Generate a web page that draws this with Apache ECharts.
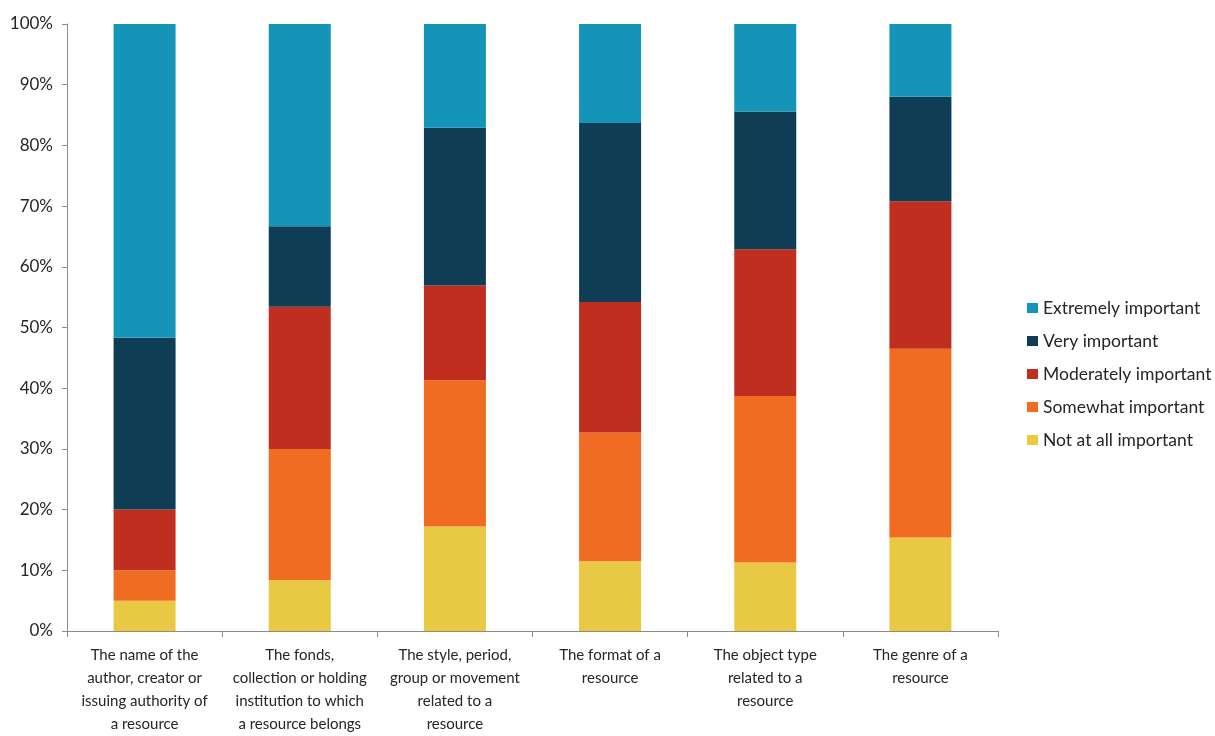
<!DOCTYPE html>
<html>
<head>
<meta charset="utf-8">
<script src="https://cdn.jsdelivr.net/npm/echarts@6/dist/echarts.min.js"></script>
<style>
  html, body { margin: 0; padding: 0; background: #fff; overflow: hidden; }
  #chart { width: 1215px; height: 736px; }
</style>
</head>
<body>
<div id="chart"></div>
<script>
// Categories (metadata facets) and share of answers per importance level, in %
const categories = [
  'The name of the\nauthor, creator or\nissuing authority of\na resource',
  'The fonds,\ncollection or holding\ninstitution to which\na resource belongs',
  'The style, period,\ngroup or movement\nrelated to a\nresource',
  'The format of a\nresource',
  'The object type\nrelated to a\nresource',
  'The genre of a\nresource'
];
const notAtAll    = [5.0, 8.4, 17.2, 11.5, 11.3, 15.4];
const somewhat    = [5.0, 21.6, 24.1, 21.2, 27.4, 31.1];
const moderately  = [10.0, 23.4, 15.6, 21.5, 24.2, 24.3];
const very        = [28.3, 13.3, 26.0, 29.5, 22.7, 17.2];
const extremely   = [51.7, 33.3, 17.1, 16.3, 14.4, 12.0];
const yTicks = [0, 10, 20, 30, 40, 50, 60, 70, 80, 90, 100];

const font = 'Lato, "Open Sans", sans-serif';
const textColor = '#262626';
const axisGray = '#8c8c8c';

const seriesDefs = [
  { name: 'Not at all important', data: notAtAll,   color: '#E9C844' },
  { name: 'Somewhat important',   data: somewhat,   color: '#F06C22' },
  { name: 'Moderately important', data: moderately, color: '#C02E1F' },
  { name: 'Very important',       data: very,       color: '#0E3D55' },
  { name: 'Extremely important',  data: extremely,  color: '#1594BA' }
];

const chart = echarts.init(document.getElementById('chart'), null, { renderer: 'canvas' });
chart.setOption({
  animation: false,
  backgroundColor: '#fff',
  grid: { left: 67, width: 931, top: 24, height: 615, containLabel: false },
  legend: {
    orient: 'vertical',
    left: 1022,
    top: 294,
    padding: 5,
    itemWidth: 11,
    itemHeight: 10,
    itemGap: 15,
    icon: 'rect',
    textStyle: { fontFamily: font, fontSize: 17.5, lineHeight: 18, color: textColor },
    data: ['Extremely important', 'Very important', 'Moderately important', 'Somewhat important', 'Not at all important']
  },
  xAxis: {
    type: 'category',
    data: categories,
    axisLine: { lineStyle: { color: axisGray, width: 1 } },
    axisTick: { show: true, length: 6, alignWithLabel: false, lineStyle: { color: axisGray } },
    axisLabel: {
      interval: 0,
      margin: 13,
      fontFamily: font,
      fontSize: 15,
      color: textColor,
      lineHeight: 23
    }
  },
  yAxis: {
    type: 'value',
    min: yTicks[0],
    max: yTicks[yTicks.length - 1],
    interval: 10,
    splitLine: { show: false },
    axisLine: { show: true, lineStyle: { color: axisGray, width: 1 } },
    axisTick: { show: true, length: 5, lineStyle: { color: axisGray } },
    axisLabel: {
      formatter: '{value}%',
      margin: 14,
      fontFamily: font,
      fontSize: 17,
      color: textColor
    }
  },
  series: seriesDefs.map(s => ({
    name: s.name,
    type: 'bar',
    stack: 'total',
    barWidth: 62,
    data: s.data,
    itemStyle: { color: s.color }
  }))
});
</script>
</body>
</html>
